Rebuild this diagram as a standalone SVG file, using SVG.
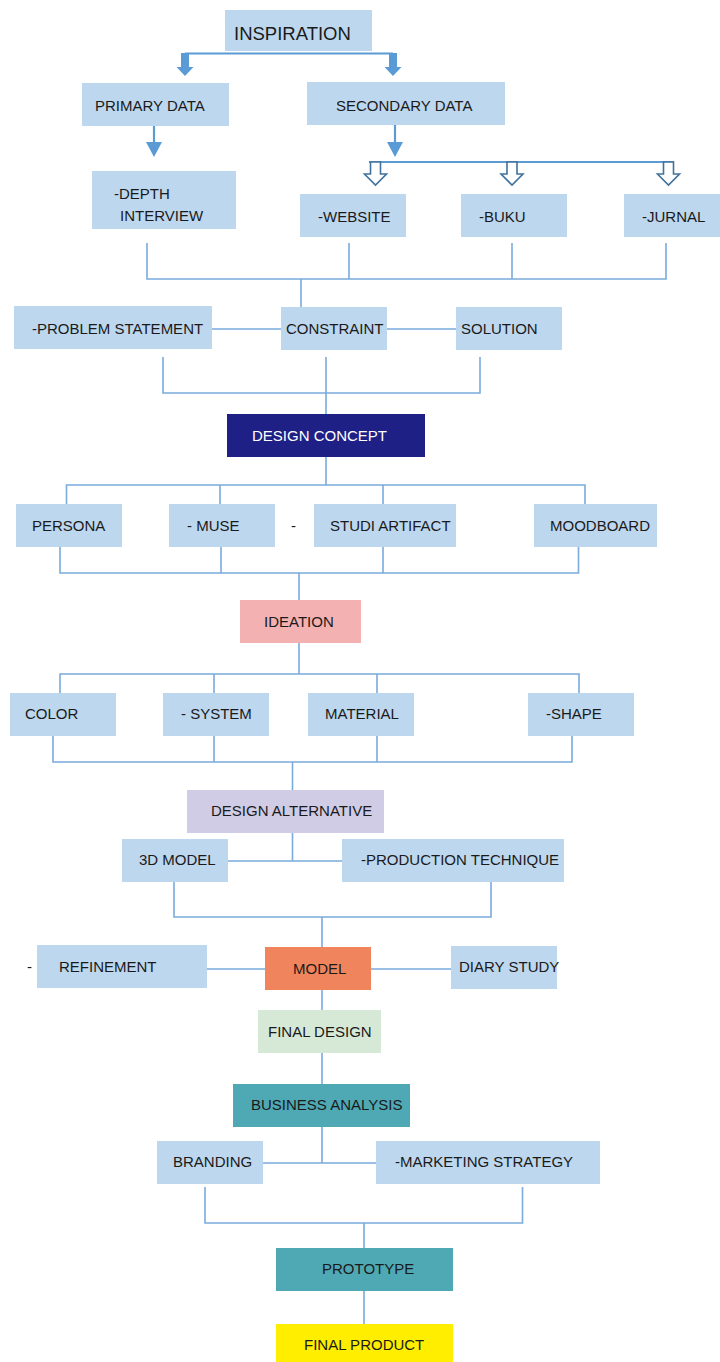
<svg xmlns="http://www.w3.org/2000/svg" width="720" height="1362" viewBox="0 0 720 1362">
  <style>
    .box { fill: #BDD7EE; }
    .t { font-family: "Liberation Sans", Arial, sans-serif; font-size: 15px; fill: #1a1a1a; }
    .w { fill: #ffffff; }
    .ln { stroke: #7AABDC; stroke-width: 1.6; fill: none; }
    .solid { fill: #5B9BD5; }
    .hollow { fill: #ffffff; stroke: #41719C; stroke-width: 1.6; }
  </style>
  <rect width="720" height="1362" fill="#ffffff"/>

  <!-- connectors -->
  <g id="connectors">
    <!-- inspiration split -->
    <path d="M185 53.5 H393" stroke="#5B9BD5" stroke-width="2.2" fill="none"/>
    <polygon class="solid" points="181,53 189,53 189,67 193.5,67 185,76 176.5,67 181,67"/>
    <polygon class="solid" points="389,53 397,53 397,67 401.5,67 393,76 384.5,67 389,67"/>
    <!-- primary / secondary arrows -->
    <path d="M154 126 V143 M395 125 V143" stroke="#5B9BD5" stroke-width="2.2" fill="none"/>
    <polygon class="solid" points="146,142 162,142 154,157"/>
    <polygon class="solid" points="387,142 403,142 395,157"/>
    <!-- secondary split -->
    <path d="M369 162 H674" stroke="#5B9BD5" stroke-width="2" fill="none"/>
    <polygon class="hollow" points="370.5,162 380.5,162 380.5,174 386.5,174 375.5,185 364.5,174 370.5,174"/>
    <polygon class="hollow" points="507,162 517,162 517,174 523,174 512,185 501,174 507,174"/>
    <polygon class="hollow" points="663.5,162 673.5,162 673.5,174 679.5,174 668.5,185 657.5,174 663.5,174"/>
    <!-- sources to constraint -->
    <path class="ln" d="M147 243 V279 H666 V243 M349 243 V279 M512 243 V279 M301 279 V307"/>
    <path class="ln" d="M212 329 H281 M387 329 H456"/>
    <path class="ln" d="M163 357 V393 H480 V357 M326 357 V414"/>
    <!-- design concept fan-out -->
    <path class="ln" d="M326 457 V485 M66.5 504 V485 H585 V504 M220 485 V504 M383 485 V504"/>
    <path class="ln" d="M60 547 V573 H578.5 V547 M221 547 V573 M383 547 V573 M299 573 V600"/>
    <!-- ideation fan-out -->
    <path class="ln" d="M299 643 V674 M60 693 V674 H579 V693 M214 674 V693 M377 674 V693"/>
    <path class="ln" d="M53 736 V762 H572 V736 M214 736 V762 M377 736 V762 M292.5 762 V790"/>
    <!-- design alternative -->
    <path class="ln" d="M292.5 833 V861 M228 861 H342"/>
    <path class="ln" d="M174 882 V917 H491 V882 M322 917 V947"/>
    <!-- model row -->
    <path class="ln" d="M207 969 H265 M371 969 H451"/>
    <path class="ln" d="M322 990 V1010 M322 1053 V1084 M322 1127 V1163 M262.6 1163 H376"/>
    <path class="ln" d="M205 1187 V1223 H522.5 V1187 M364 1223 V1248 M364 1291 V1324"/>
  </g>

  <g id="inspiration">
    <rect class="box" x="225" y="10" width="147" height="41"/>
    <text class="t" x="234" y="40" style="font-size:18.5px">INSPIRATION</text>
  </g>
  <g id="primary-data">
    <rect class="box" x="82" y="83" width="147" height="43"/>
    <text class="t" x="95" y="111">PRIMARY DATA</text>
  </g>
  <g id="secondary-data">
    <rect class="box" x="307" y="82" width="198" height="43"/>
    <text class="t" x="336" y="111">SECONDARY DATA</text>
  </g>
  <g id="depth-interview">
    <rect class="box" x="92" y="171" width="144" height="58"/>
    <text class="t" x="114" y="199">-DEPTH</text>
    <text class="t" x="120" y="221">INTERVIEW</text>
  </g>
  <g id="website">
    <rect class="box" x="300" y="194" width="106" height="43"/>
    <text class="t" x="318" y="222">-WEBSITE</text>
  </g>
  <g id="buku">
    <rect class="box" x="461" y="194" width="106" height="43"/>
    <text class="t" x="479" y="222">-BUKU</text>
  </g>
  <g id="jurnal">
    <rect class="box" x="624" y="194" width="96" height="43"/>
    <text class="t" x="642" y="222">-JURNAL</text>
  </g>
  <g id="problem-statement">
    <rect class="box" x="14" y="306" width="198" height="43"/>
    <text class="t" x="32" y="334">-PROBLEM STATEMENT</text>
  </g>
  <g id="constraint">
    <rect class="box" x="281" y="307" width="106" height="43"/>
    <text class="t" x="286" y="334">CONSTRAINT</text>
  </g>
  <g id="solution">
    <rect class="box" x="456" y="307" width="106" height="43"/>
    <text class="t" x="461" y="334">SOLUTION</text>
  </g>
  <g id="design-concept">
    <rect x="227" y="414" width="198" height="43" fill="#1F2086"/>
    <text class="t w" x="252" y="441">DESIGN CONCEPT</text>
  </g>
  <g id="persona">
    <rect class="box" x="16" y="504" width="106" height="43"/>
    <text class="t" x="32" y="531">PERSONA</text>
  </g>
  <g id="muse">
    <rect class="box" x="169" y="504" width="106" height="43"/>
    <text class="t" x="187" y="531">- MUSE</text>
  </g>
  <text class="t" x="291" y="531">-</text>
  <g id="studi-artifact">
    <rect class="box" x="314" y="504" width="142" height="43"/>
    <text class="t" x="330" y="531">STUDI ARTIFACT</text>
  </g>
  <g id="moodboard">
    <rect class="box" x="534" y="504" width="123" height="43"/>
    <text class="t" x="550" y="531">MOODBOARD</text>
  </g>
  <g id="ideation">
    <rect x="240" y="600" width="121" height="43" fill="#F4B1B1"/>
    <text class="t" x="264" y="627">IDEATION</text>
  </g>
  <g id="color">
    <rect class="box" x="10" y="693" width="106" height="43"/>
    <text class="t" x="25" y="719">COLOR</text>
  </g>
  <g id="system">
    <rect class="box" x="163" y="693" width="106" height="43"/>
    <text class="t" x="181" y="719">- SYSTEM</text>
  </g>
  <g id="material">
    <rect class="box" x="308" y="693" width="106" height="43"/>
    <text class="t" x="325" y="719">MATERIAL</text>
  </g>
  <g id="shape">
    <rect class="box" x="528" y="693" width="106" height="43"/>
    <text class="t" x="546" y="719">-SHAPE</text>
  </g>
  <g id="design-alternative">
    <rect x="187" y="790" width="197" height="43" fill="#D0CCE5"/>
    <text class="t" x="211" y="816">DESIGN ALTERNATIVE</text>
  </g>
  <g id="model-3d">
    <rect class="box" x="122" y="839" width="106" height="43"/>
    <text class="t" x="139" y="865">3D MODEL</text>
  </g>
  <g id="production-technique">
    <rect class="box" x="342" y="839" width="222" height="43"/>
    <text class="t" x="361" y="865">-PRODUCTION TECHNIQUE</text>
  </g>
  <text class="t" x="27" y="972">-</text>
  <g id="refinement">
    <rect class="box" x="37" y="945" width="170" height="43"/>
    <text class="t" x="59" y="972">REFINEMENT</text>
  </g>
  <g id="model">
    <rect x="265" y="947" width="106" height="43" fill="#F0845C"/>
    <text class="t" x="293" y="974">MODEL</text>
  </g>
  <g id="diary-study">
    <rect class="box" x="451" y="946" width="106" height="43"/>
    <text class="t" x="459" y="972">DIARY STUDY</text>
  </g>
  <g id="final-design">
    <rect x="258" y="1010" width="123" height="43" fill="#D6E9D6"/>
    <text class="t" x="268" y="1037">FINAL DESIGN</text>
  </g>
  <g id="business-analysis">
    <rect x="233" y="1084" width="177" height="43" fill="#4FA9B4"/>
    <text class="t" x="251" y="1110">BUSINESS ANALYSIS</text>
  </g>
  <g id="branding">
    <rect class="box" x="157" y="1141" width="106" height="43"/>
    <text class="t" x="173" y="1167">BRANDING</text>
  </g>
  <g id="marketing-strategy">
    <rect class="box" x="376" y="1141" width="224" height="43"/>
    <text class="t" x="395" y="1167">-MARKETING STRATEGY</text>
  </g>
  <g id="prototype">
    <rect x="276" y="1248" width="177" height="43" fill="#4FA9B4"/>
    <text class="t" x="322" y="1274">PROTOTYPE</text>
  </g>
  <g id="final-product">
    <rect x="276" y="1324" width="177" height="38" fill="#FFEE00"/>
    <text class="t" x="304" y="1350">FINAL PRODUCT</text>
  </g>
</svg>
